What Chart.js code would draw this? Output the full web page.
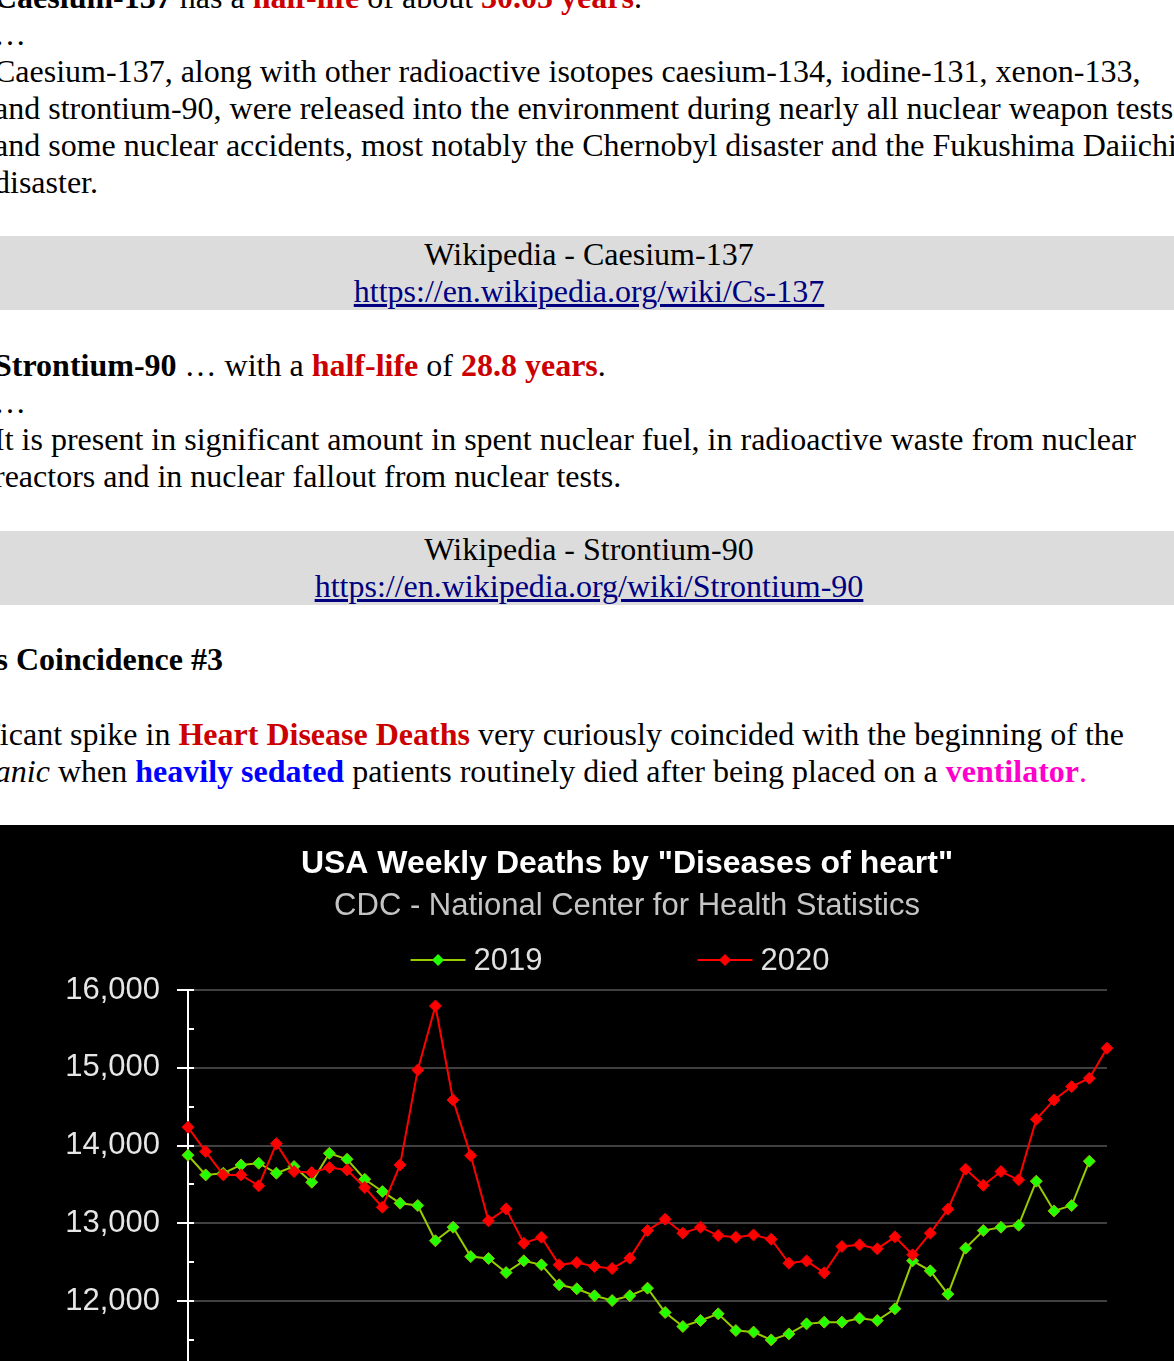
<!DOCTYPE html>
<html>
<head>
<meta charset="utf-8">
<script src="https://cdn.jsdelivr.net/npm/chart.js@4.4.1/dist/chart.umd.min.js"></script>
<style>
    html, body { margin: 0; padding: 0; width: 1174px; height: 1361px; overflow: hidden; background: #fff; }
    body { position: relative; font-family: "Liberation Serif", "Times New Roman", serif; font-size: 32px; line-height: 37px; color: #000; }
    .blk { position: absolute; left: -6px; white-space: nowrap; }
    .rblk { position: absolute; white-space: nowrap; }
    .box { position: absolute; left: -100px; width: 1378px; height: 74px; background: #dcdcdc; text-align: center; }
    .box a { color: #000080; }
    .red { color: #cc0000; font-weight: bold; }
    .blue { color: #0000ff; font-weight: bold; }
    .mag { color: #ff00cc; }
    #chartWrap { position: absolute; left: 0; top: 825px; width: 1254px; height: 700px; background: #000; }
</style>
</head>
<body>
<div class="blk" style="top:-21.3px">
    <b>Caesium-137</b> has a <span class="red">half-life</span> of about <span class="red">30.05 years</span>.<br>
    …<br>
    Caesium-137, along with other radioactive isotopes caesium-134, iodine-131, xenon-133,<br>
    and strontium-90, were released into the environment during nearly all nuclear weapon tests<br>
    and some nuclear accidents, most notably the Chernobyl disaster and the Fukushima Daiichi<br>
    disaster.
</div>

<div class="box" style="top:236px">
    Wikipedia - Caesium-137<br>
    <a href="https://en.wikipedia.org/wiki/Cs-137">https://en.wikipedia.org/wiki/Cs-137</a>
</div>

<div class="blk" style="top:346.7px">
    <b>Strontium-90</b> … with a <span class="red">half-life</span> of <span class="red">28.8 years</span>.<br>
    …<br>
    It is present in significant amount in spent nuclear fuel, in radioactive waste from nuclear<br>
    reactors and in nuclear fallout from nuclear tests.
</div>

<div class="box" style="top:531px">
    Wikipedia - Strontium-90<br>
    <a href="https://en.wikipedia.org/wiki/Strontium-90">https://en.wikipedia.org/wiki/Strontium-90</a>
</div>

<div class="rblk" style="top:640.7px; right:951px"><b>Curious Coincidence #3</b></div>

<div class="rblk" style="top:715.7px; right:50px">A significant spike in <span class="red">Heart Disease Deaths</span> very curiously coincided with the beginning of the</div>
<div class="rblk" style="top:752.7px; right:87px"><i>panic</i> when <span class="blue">heavily sedated</span> patients routinely died after being placed on a <b class="mag">ventilator</b><span class="mag">.</span></div>

<div id="chartWrap">
    <canvas id="heartChart" width="1254" height="700"></canvas>
</div>

<script>
    const weekLabels = ['1', '2', '3', '4', '5', '6', '7', '8', '9', '10',
        '11', '12', '13', '14', '15', '16', '17', '18', '19', '20',
        '21', '22', '23', '24', '25', '26', '27', '28', '29', '30',
        '31', '32', '33', '34', '35', '36', '37', '38', '39', '40',
        '41', '42', '43', '44', '45', '46', '47', '48', '49', '50',
        '51', '52', '53'];

    // недельные смерти 2019
    const deaths2019 = [13875, 13622, 13644, 13750, 13772, 13644, 13730, 13528, 13900, 13823,
        13566, 13408, 13258, 13228, 12775, 12949, 12571, 12546, 12366, 12517,
        12465, 12208, 12157, 12067, 12006, 12067, 12165, 11852, 11672, 11749,
        11835, 11620, 11600, 11500, 11577, 11706, 11728, 11728, 11779, 11749,
        11900, 12517, 12388, 12088, 12680, 12906, 12949, 12975, 13541, 13159,
        13228, 13798];

    // недельные смерти 2020
    const deaths2020 = [14235, 13922, 13622, 13622, 13481, 14024, 13665, 13652, 13716, 13686,
        13460, 13207, 13750, 14972, 15794, 14586, 13870, 13031, 13185, 12744,
        12820, 12465, 12495, 12444, 12418, 12551, 12906, 13052, 12872, 12949,
        12842, 12820, 12850, 12794, 12486, 12516, 12362, 12701, 12722, 12671,
        12825, 12594, 12872, 13181, 13695, 13489, 13665, 13558, 14338, 14586,
        14757, 14865, 15251];

    const yMin = 10000;
    const yMax = 16000;

    Chart.defaults.font.family = '"Liberation Sans", Arial, sans-serif';

    // короткие засечки справа от оси
    const minorTicks = {
        id: 'minorTicks',
        beforeDatasetsDraw(chart) {
            const ys = chart.scales.y;
            const c = chart.ctx;
            const left = chart.chartArea.left;
            c.save();
            c.strokeStyle = '#ffffff';
            c.lineWidth = 2;
            ys.ticks.forEach(t => {
                const py = Math.round(ys.getPixelForValue(t.value));
                c.beginPath();
                c.moveTo(left, py);
                c.lineTo(left + 6, py);
                c.stroke();
            });
            c.restore();
        }
    };

    // легенда: линия с ромбом и подпись
    const seriesLegend = {
        id: 'seriesLegend',
        afterDraw(chart) {
            const c = chart.ctx;
            const lineLen = 55, gapText = 8, gapItem = 155;
            c.save();
            c.font = '31px "Liberation Sans"';
            const items = chart.data.datasets.map(ds => ({
                ds: ds,
                w: lineLen + gapText + c.measureText(ds.label).width
            }));
            const total = items.reduce((s, it) => s + it.w, 0) + gapItem * (items.length - 1);
            let x = chart.width / 2 - 7 - total / 2;
            const y = chart.chartArea.top - 30;
            items.forEach(it => {
                c.strokeStyle = it.ds.borderColor;
                c.lineWidth = 2;
                c.beginPath();
                c.moveTo(x, y);
                c.lineTo(x + lineLen, y);
                c.stroke();
                const cx = x + lineLen / 2;
                c.fillStyle = it.ds.pointBackgroundColor;
                c.beginPath();
                c.moveTo(cx, y - 6);
                c.lineTo(cx + 6, y);
                c.lineTo(cx, y + 6);
                c.lineTo(cx - 6, y);
                c.closePath();
                c.fill();
                c.fillStyle = '#e0e0e0';
                c.textAlign = 'left';
                c.textBaseline = 'middle';
                c.fillText(it.ds.label, x + lineLen + gapText, y + 1);
                x += it.w + gapItem;
            });
            c.restore();
        }
    };

    const ctx = document.getElementById('heartChart').getContext('2d');
    new Chart(ctx, {
        type: 'line',
        data: {
            labels: weekLabels,
            datasets: [
                {
                    label: '2019',
                    data: deaths2019,
                    borderColor: '#99cc00',
                    borderWidth: 2,
                    pointStyle: 'rectRot',
                    pointRadius: 6,
                    pointBackgroundColor: '#22ff00',
                    pointBorderColor: '#99bb00',
                    pointBorderWidth: 1,
                    tension: 0,
                    fill: false,
                    clip: false,
                    order: 1
                },
                {
                    label: '2020',
                    data: deaths2020,
                    borderColor: '#ff0000',
                    borderWidth: 2,
                    pointStyle: 'rectRot',
                    pointRadius: 6,
                    pointBackgroundColor: '#ff0000',
                    pointBorderColor: '#ee0000',
                    pointBorderWidth: 1,
                    tension: 0,
                    fill: false,
                    clip: false,
                    order: 0
                }
            ]
        },
        options: {
            responsive: false,
            animation: false,
            layout: { padding: { left: 60, right: 60, top: 0, bottom: 68.5 } },
            plugins: {
                legend: { display: false },
                tooltip: { enabled: false },
                title: {
                    display: true,
                    text: 'USA Weekly Deaths by "Diseases of heart"',
                    color: '#ffffff',
                    font: { size: 32, weight: 'bold' },
                    padding: { top: 19.8, bottom: 0 }
                },
                subtitle: {
                    display: true,
                    text: 'CDC - National Center for Health Statistics',
                    color: '#c4c4c4',
                    font: { size: 31, weight: 'normal' },
                    padding: { top: 4.2, bottom: 65.4 }
                }
            },
            scales: {
                x: { display: false, offset: false },
                y: {
                    min: yMin,
                    max: yMax,
                    afterFit: function (scale) { scale.width = 128; },
                    ticks: {
                        stepSize: 500,
                        autoSkip: false,
                        color: '#e6e6e6',
                        padding: 17,
                        font: { size: 31 },
                        callback: function (value) {
                            return value % 1000 === 0 ? value.toLocaleString('en-US') : '';
                        }
                    },
                    grid: {
                        color: c => (c.tick && c.tick.value % 1000 === 0) ? '#404040' : 'rgba(0,0,0,0)',
                        tickColor: c => (c.tick && c.tick.value % 1000 === 0) ? '#ffffff' : 'rgba(0,0,0,0)',
                        lineWidth: 2,
                        tickLength: 11
                    },
                    border: { color: '#ffffff', width: 2 }
                },
                // пустое место справа, чтобы заголовок был по центру исходной картинки
                spacer: {
                    type: 'linear',
                    position: 'right',
                    grid: { display: false },
                    border: { display: false },
                    ticks: { display: false },
                    afterFit: function (scale) { scale.width = 87; }
                }
            }
        },
        plugins: [minorTicks, seriesLegend]
    });
</script>
</body>
</html>
